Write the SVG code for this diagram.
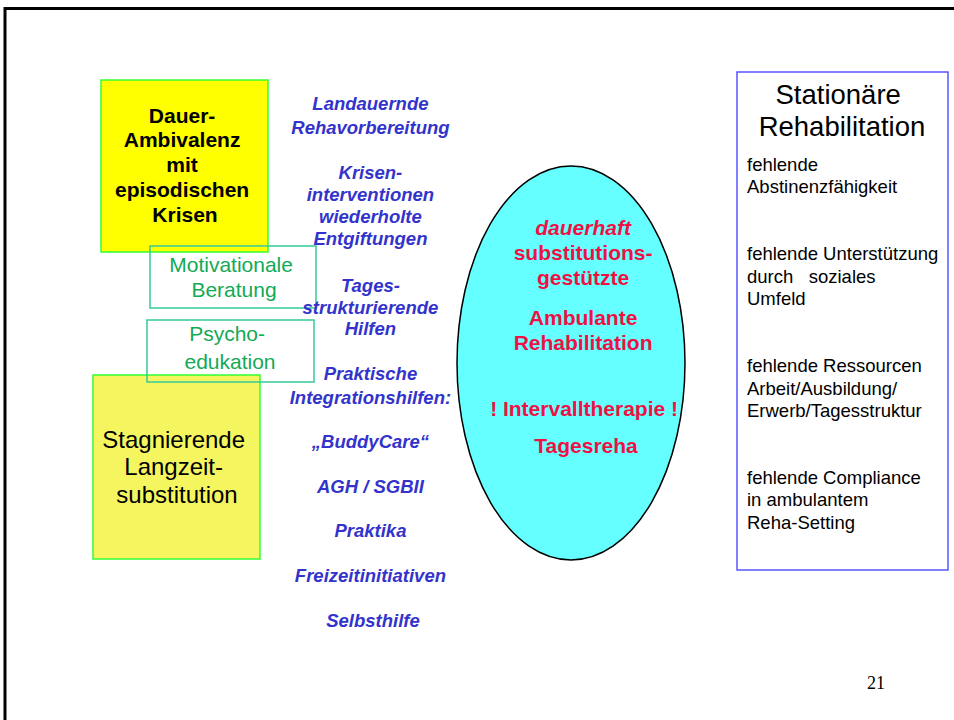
<svg xmlns="http://www.w3.org/2000/svg" width="954" height="720" viewBox="0 0 954 720">
  <style>
    .sans { font-family: "Liberation Sans", Arial, sans-serif; }
    .blue { fill: #3333CC; font-weight: bold; font-style: italic; font-size: 18.5px; text-anchor: middle; }
    .red { fill: #EE1144; font-weight: bold; font-size: 21px; text-anchor: middle; }
    .green { fill: #11AA55; font-size: 21px; text-anchor: middle; }
    .dark { fill: #000; }
    .item { font-size: 18.5px; fill: #000; }
    .tealbox { fill: none; stroke: #33CC99; stroke-width: 1.5; }
    .limebox { stroke: #33FF33; stroke-width: 1.5; }
  </style>

  <rect width="954" height="720" fill="#fff"/>
  <!-- page frame -->
  <path d="M5 720 V8.5 H954" fill="none" stroke="#000" stroke-width="3"/>

  <g id="dauer-ambivalenz">
    <rect x="101" y="80" width="167" height="172" fill="#FFFF00" class="limebox"/>
    <text class="sans dark" font-size="21" font-weight="bold" text-anchor="middle">
      <tspan x="185" y="123">Dauer-</tspan>
      <tspan x="185" y="147">Ambivalenz</tspan>
      <tspan x="185" y="172">mit</tspan>
      <tspan x="185" y="197">episodischen</tspan>
      <tspan x="185" y="222">Krisen</tspan>
    </text>
  </g>

  <g id="stagnierende">
    <rect x="93" y="375" width="167" height="184" fill="#F5F560" class="limebox"/>
    <text class="sans dark" font-size="24" text-anchor="middle">
      <tspan x="177" y="448">Stagnierende</tspan>
      <tspan x="177" y="475">Langzeit-</tspan>
      <tspan x="177" y="503">substitution</tspan>
    </text>
  </g>

  <g id="motivationale-beratung">
    <rect x="150" y="246" width="166" height="62" class="tealbox"/>
    <text class="sans green">
      <tspan x="234" y="272">Motivationale</tspan>
      <tspan x="234" y="297">Beratung</tspan>
    </text>
  </g>

  <g id="psychoedukation">
    <rect x="147" y="320" width="167" height="62" class="tealbox"/>
    <text class="sans green">
      <tspan x="230" y="341">Psycho-</tspan>
      <tspan x="230" y="369">edukation</tspan>
    </text>
  </g>

  <g id="hilfen">
    <text class="sans blue">
      <tspan x="373" y="110">Landauernde</tspan>
      <tspan x="373" y="134">Rehavorbereitung</tspan>
      <tspan x="373" y="179">Krisen-</tspan>
      <tspan x="373" y="201">interventionen</tspan>
      <tspan x="373" y="223">wiederholte</tspan>
      <tspan x="373" y="245">Entgiftungen</tspan>
      <tspan x="373" y="292">Tages-</tspan>
      <tspan x="373" y="314">strukturierende</tspan>
      <tspan x="373" y="335">Hilfen</tspan>
      <tspan x="373" y="380">Praktische</tspan>
      <tspan x="373" y="404">Integrationshilfen:</tspan>
      <tspan x="373" y="448">„BuddyCare“</tspan>
      <tspan x="373" y="493">AGH / SGBII</tspan>
      <tspan x="373" y="537">Praktika</tspan>
      <tspan x="373" y="582">Freizeitinitiativen</tspan>
      <tspan x="373" y="627">Selbsthilfe</tspan>
    </text>
  </g>

  <g id="ambulante-rehabilitation">
    <ellipse cx="571" cy="363" rx="114" ry="197" fill="#66FFFF" stroke="#000" stroke-width="1.5"/>
    <text class="sans red">
      <tspan x="586" y="235" font-style="italic">dauerhaft</tspan>
      <tspan x="586" y="260">substitutions-</tspan>
      <tspan x="586" y="285">gestützte</tspan>
      <tspan x="586" y="325">Ambulante</tspan>
      <tspan x="586" y="350">Rehabilitation</tspan>
      <tspan x="587" y="416">! Intervalltherapie !</tspan>
      <tspan x="586" y="453">Tagesreha</tspan>
    </text>
  </g>

  <g id="stationaere-rehabilitation">
    <rect x="737" y="72" width="211" height="498" fill="#fff" stroke="#5555FF" stroke-width="1.5"/>
    <text class="sans dark" font-size="27.5" text-anchor="middle">
      <tspan x="842" y="104">Stationäre</tspan>
      <tspan x="842" y="136">Rehabilitation</tspan>
    </text>
    <text class="sans item">
      <tspan x="747" y="171">fehlende</tspan>
      <tspan x="747" y="193">Abstinenzfähigkeit</tspan>
      <tspan x="747" y="260">fehlende Unterstützung</tspan>
      <tspan x="747" y="283" xml:space="preserve">durch   soziales</tspan>
      <tspan x="747" y="305">Umfeld</tspan>
      <tspan x="747" y="372">fehlende Ressourcen</tspan>
      <tspan x="747" y="395">Arbeit/Ausbildung/</tspan>
      <tspan x="747" y="417">Erwerb/Tagesstruktur</tspan>
      <tspan x="747" y="484">fehlende Compliance</tspan>
      <tspan x="747" y="506">in ambulantem</tspan>
      <tspan x="747" y="529">Reha-Setting</tspan>
    </text>
  </g>

  <text x="876" y="689" font-family="'Liberation Serif', 'Times New Roman', serif" font-size="18" text-anchor="middle" fill="#000">21</text>

  <g id="connectors"/>
</svg>
